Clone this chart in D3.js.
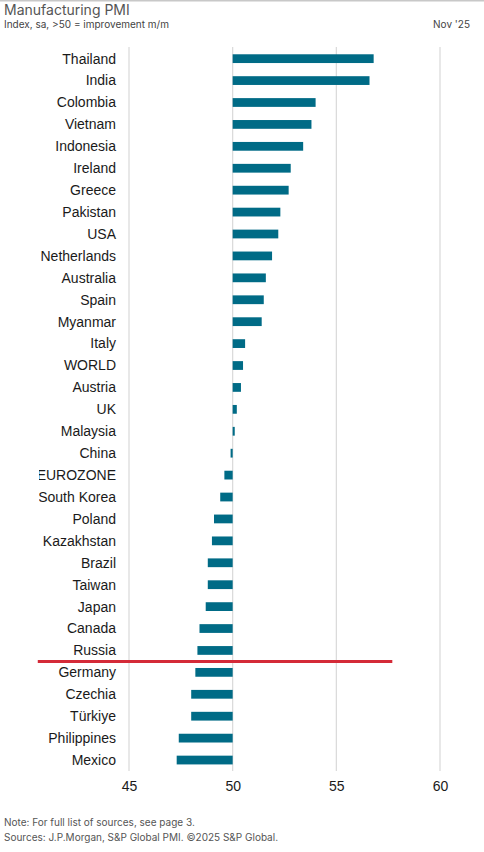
<!DOCTYPE html>
<meta charset="utf-8" />
<script src="https://d3js.org/d3.v7.min.js"></script>
<style>
  body { margin: 0; background: #fff; }
  text { font-family: "Liberation Sans", Arial, sans-serif; }
  .hdr { font-family: Inter, "Noto Sans", sans-serif; fill: #555; }
</style>
<body>
<div id="chart"></div>
<script>
  var countries = ["Thailand", "India", "Colombia", "Vietnam", "Indonesia", "Ireland", "Greece",
    "Pakistan", "USA", "Netherlands", "Australia", "Spain", "Myanmar", "Italy", "WORLD", "Austria",
    "UK", "Malaysia", "China", "EUROZONE", "South Korea", "Poland", "Kazakhstan", "Brazil", "Taiwan",
    "Japan", "Canada", "Russia", "Germany", "Czechia", "Türkiye", "Philippines", "Mexico"];
  var pmi = [56.8, 56.6, 54.0, 53.8, 53.4, 52.8, 52.7,
    52.3, 52.2, 51.9, 51.6, 51.5, 51.4, 50.6, 50.5, 50.4,
    50.2, 50.1, 49.9, 49.6, 49.4, 49.1, 49.0, 48.8, 48.8,
    48.7, 48.4, 48.3, 48.2, 48.0, 48.0, 47.4, 47.3];
  var xTicks = [45, 50, 55, 60];
  var separatorAfter = "Russia";
  var separatorSpan = [40.6, 57.7];

  var width = 484, height = 852;
  var svg = d3.select("#chart").append("svg")
    .attr("width", width).attr("height", height);

  // top rule
  svg.append("line").attr("x1", 0).attr("x2", width).attr("y1", 0.75).attr("y2", 0.75)
    .attr("stroke", "#c8c8c8").attr("stroke-width", 1.5);

  svg.append("text").attr("class", "hdr").attr("x", 4).attr("y", 15)
    .style("font-size", "14px").text("Manufacturing PMI");
  svg.append("text").attr("class", "hdr").attr("x", 4).attr("y", 28)
    .style("font-size", "10px").style("fill", "#444").text("Index, sa, >50 = improvement m/m");
  svg.append("text").attr("class", "hdr").attr("x", 470).attr("y", 28)
    .attr("text-anchor", "end").style("font-size", "10px").style("fill", "#444").text("Nov '25");

  var x = d3.scaleLinear().domain([45, 60]).range([129, 440]);
  var y = d3.scaleBand().domain(countries).range([47.7, 771])
    .paddingInner(0.6).paddingOuter(0.3);

  // gridlines
  svg.append("g").selectAll("line").data(xTicks).enter().append("line")
    .attr("x1", function (d) { return x(d); })
    .attr("x2", function (d) { return x(d); })
    .attr("y1", 47).attr("y2", 771)
    .attr("stroke", "#d9d9d9").attr("stroke-width", 1.2);

  // bars
  svg.append("g").selectAll("rect").data(countries).enter().append("rect")
    .attr("x", function (d, i) { return x(Math.min(50, pmi[i])); })
    .attr("y", function (d) { return y(d); })
    .attr("width", function (d, i) { return Math.abs(x(pmi[i]) - x(50)); })
    .attr("height", y.bandwidth())
    .attr("fill", "#006b86");

  // country labels, clipped on the left like the source
  svg.append("clipPath").attr("id", "lblclip").append("rect")
    .attr("x", 39).attr("y", 40).attr("width", 90).attr("height", 740);
  svg.append("g").attr("clip-path", "url(#lblclip)")
    .selectAll("text").data(countries).enter().append("text")
    .attr("x", 116)
    .attr("y", function (d) { return y(d) + y.bandwidth() / 2; })
    .attr("dy", "0.35em")
    .attr("text-anchor", "end")
    .style("font-size", "14px").style("fill", "#1a1a1a")
    .text(function (d) { return d; });

  // x axis
  var xAxis = svg.append("g").attr("transform", "translate(0,771)")
    .call(d3.axisBottom(x).tickValues(xTicks).tickSize(0).tickPadding(10));
  xAxis.select(".domain").remove();
  xAxis.selectAll("text").style("font-size", "14px").style("fill", "#1a1a1a")
    .style("font-family", "'Liberation Sans', Arial, sans-serif");

  // red separator line
  var sepY = y(separatorAfter) + y.bandwidth() / 2 + y.step() / 2;
  svg.append("line")
    .attr("x1", x(separatorSpan[0])).attr("x2", x(separatorSpan[1]))
    .attr("y1", sepY).attr("y2", sepY)
    .attr("stroke", "#d42a38").attr("stroke-width", 3);

  svg.append("text").attr("class", "hdr").attr("x", 4).attr("y", 826)
    .style("font-size", "10px").text("Note: For full list of sources, see page 3.");
  svg.append("text").attr("class", "hdr").attr("x", 4).attr("y", 841)
    .style("font-size", "10px").text("Sources: J.P.Morgan, S&P Global PMI. ©2025 S&P Global.");
</script>
</body>
